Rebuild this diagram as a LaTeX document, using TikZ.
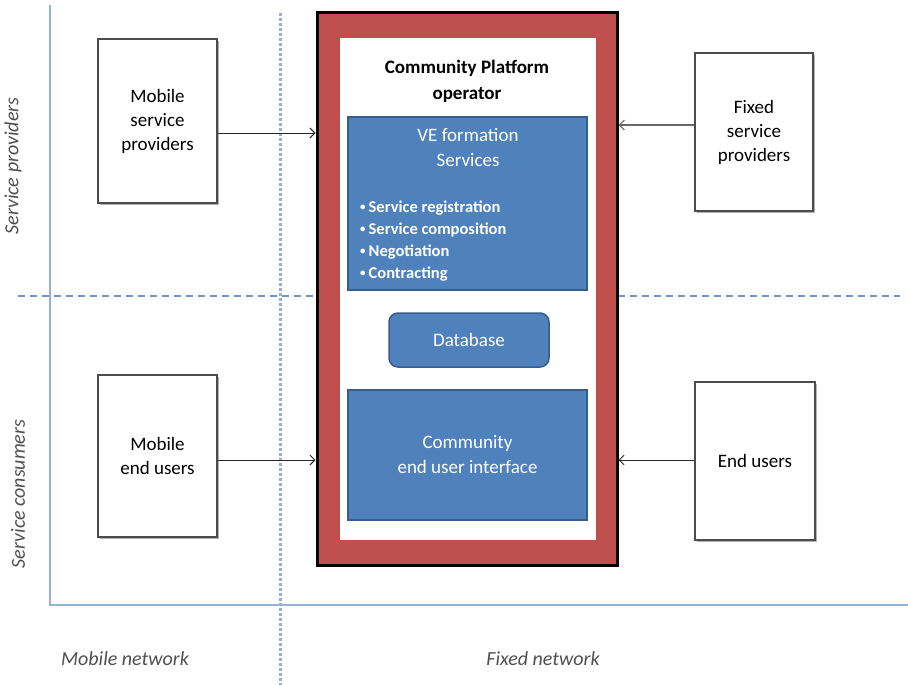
\documentclass[tikz,border=0pt]{standalone}
\usepackage{fontspec}
\setmainfont{Carlito}
\usetikzlibrary{shadows,arrows.meta}
\definecolor{cred}{HTML}{C0504D}
\definecolor{cblue}{HTML}{4F81BD}
\definecolor{cblued}{HTML}{385D8A}
\definecolor{caxis}{HTML}{95B3D7}
\definecolor{cdash}{HTML}{6C95CF}
\definecolor{cdot}{HTML}{98B1D2}
\definecolor{cgray}{HTML}{505050}
\newcommand{\smallbul}{{\fontsize{11}{11}\selectfont\raisebox{1.5pt}{\textbullet}}\hspace{3pt}}
\begin{document}
\begin{tikzpicture}[x=1pt,y=-1pt,
  actor/.style={draw=black!70, line width=1.2pt, fill=white, inner sep=0pt,
    minimum width=119pt, minimum height=163pt, align=center,
    font=\fontsize{19}{24}\selectfont,
    drop shadow={shadow xshift=2pt, shadow yshift=-2pt, fill=black!30, opacity=1}},
  bluebox/.style={draw=cblued, line width=1.5pt, fill=cblue, inner sep=0pt},
  whitetext/.style={text=white, align=center, font=\fontsize{19}{25}\selectfont},
  axis/.style={draw=caxis, line width=1.2pt},
  lab/.style={text=cgray, font=\itshape\fontsize{20}{24}\selectfont},
  arr/.style={draw=black!85, line width=0.9pt, -{Straight Barb[length=5pt,width=10pt]}}
]
\useasboundingbox (0,0) rectangle (908,685);
\fill[white] (0,0) rectangle (908,685);

% guide lines
\coordinate (axtop) at (50,5);
\coordinate (axorig) at (50,605);
\coordinate (axright) at (908,605);
\draw[axis] (axtop) -- (axorig) -- (axright);
\coordinate (dl) at (18,296);
\coordinate (dr) at (900,296);
\draw[cdash, line width=1.5pt, dash pattern=on 7pt off 5pt] (dl) -- (dr);
\coordinate (vt) at (280,13);
\coordinate (vb) at (280,685);
\draw[cdot, line width=3pt, dash pattern=on 3pt off 2pt] (vt) -- (vb);

% platform
\node[draw=black, line width=3pt, fill=cred, minimum width=300pt, minimum height=552pt, inner sep=0pt] (platform) at (467,289) {};
\node[fill=white, minimum width=256pt, minimum height=502pt, inner sep=0pt] (inner) at (468,289) {};
\node[align=center, font=\bfseries\fontsize{19}{26}\selectfont] (optitle) at (467,81) {Community Platform\\operator};

\node[bluebox, minimum width=239pt, minimum height=173pt] (ve) at (467.5,203.5) {};
\node[whitetext] (vetitle) at (468,148) {VE formation\\Services};
\node[text=white, align=left, anchor=west, inner sep=0pt, font=\bfseries\fontsize{16.5}{22}\selectfont] (velist) at (360,241)
  {\smallbul Service registration\\\smallbul Service composition\\\smallbul Negotiation\\\smallbul Contracting};

\node[bluebox, rounded corners=9pt, minimum width=160pt, minimum height=54pt, whitetext] (db) at (469,340) {Database};

\node[bluebox, minimum width=239pt, minimum height=130pt, whitetext] (ui) at (467.5,455) {Community\\end user interface};

% actors
\node[actor, minimum height=164pt] (msp) at (157.5,121) {Mobile\\service\\providers};
\node[actor, minimum height=162pt] (meu) at (157.5,456) {Mobile\\end users};
\node[actor, minimum width=118pt, minimum height=158pt] (fsp) at (754,132) {Fixed\\service\\providers};
\node[actor, minimum width=120pt, minimum height=158pt] (eu) at (755,461) {End users};

% arrows
\coordinate (a1) at ([yshift=-12pt]msp.east);
\draw[arr] (a1) -- (a1 -| platform.west);
\coordinate (a2) at ([yshift=-4pt]meu.east);
\draw[arr] (a2) -- (a2 -| platform.west);
\coordinate (a3) at ([yshift=7pt]fsp.west);
\draw[arr, draw=black!60, line width=1.2pt] (a3) -- (a3 -| platform.east);
\coordinate (a4) at ([yshift=1pt]eu.west);
\draw[arr] (a4) -- (a4 -| platform.east);

% labels
\node[lab, rotate=90] (sp) at (13,166) {Service providers};
\node[lab, rotate=90] (sc) at (18,494) {Service consumers};
\node[lab] (mn) at (125,659) {Mobile network};
\node[lab] (fn) at (543,659) {Fixed network};
\end{tikzpicture}
\end{document}
